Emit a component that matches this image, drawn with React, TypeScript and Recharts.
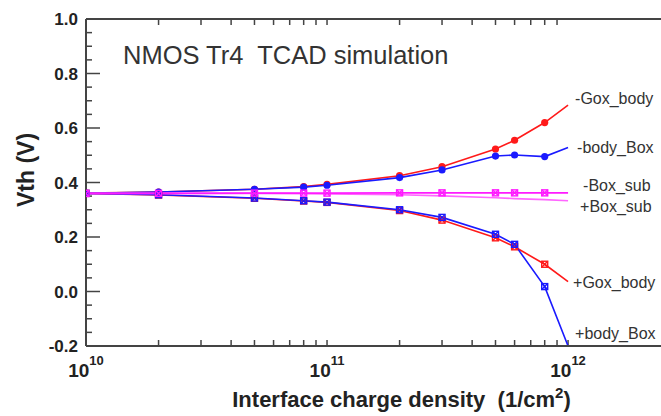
import { LineChart, Line, XAxis, YAxis, ReferenceLine } from "recharts"

// interface charge density (1/cm^2)
const density = [1e10, 2e10, 5e10, 8e10, 1e11, 2e11, 3e11, 5e11, 6e11, 8e11, 1e12]

// Vth (V) per charge location
const minusGoxBody = [0.361, 0.365, 0.375, 0.385, 0.393, 0.425, 0.458, 0.523, 0.555, 0.62, 0.684]
const minusBodyBox = [0.36, 0.365, 0.375, 0.383, 0.39, 0.418, 0.446, 0.497, 0.501, 0.495, 0.528]
const minusBoxSub = [0.36, 0.36, 0.361, 0.361, 0.361, 0.362, 0.362, 0.362, 0.362, 0.362, 0.362]
const plusBoxSub = [0.36, 0.36, 0.36, 0.359, 0.358, 0.355, 0.351, 0.344, 0.341, 0.337, 0.333]
const plusGoxBody = [0.36, 0.354, 0.342, 0.332, 0.327, 0.297, 0.262, 0.197, 0.164, 0.1, 0.036]
const plusBodyBox = [0.36, 0.355, 0.343, 0.333, 0.328, 0.3, 0.272, 0.21, 0.173, 0.018, -0.2]

const xMajorTicks = [1e10, 1e11, 1e12]
const xMinorTicks = [2e10, 3e10, 4e10, 5e10, 6e10, 7e10, 8e10, 9e10, 1e11, 2e11, 3e11, 4e11, 5e11, 6e11, 7e11, 8e11, 9e11]
const yMajorTicks = [-0.2, 0, 0.2, 0.4, 0.6, 0.8, 1.0]
const yMinorTicks = [-0.15, -0.1, -0.05, 0.05, 0.1, 0.15, 0.25, 0.3, 0.35, 0.45, 0.5, 0.55, 0.65, 0.7, 0.75, 0.85, 0.9, 0.95]

const rows = density.map((x, i) => ({
  x,
  gox_m: minusGoxBody[i],
  body_m: minusBodyBox[i],
  sub_m: minusBoxSub[i],
  sub_p: plusBoxSub[i],
  gox_p: plusGoxBody[i],
  body_p: plusBodyBox[i],
}))

const series = [
  { key: "gox_m", name: "-Gox_body", color: "#ff1a1a", marker: "circle", dx: 7, dy: -7 },
  { key: "gox_p", name: "+Gox_body", color: "#ff1a1a", marker: "cross", dx: 5, dy: 1 },
  { key: "body_m", name: "-body_Box", color: "#1a1aff", marker: "circle", dx: 9, dy: 0 },
  { key: "body_p", name: "+body_Box", color: "#1a1aff", marker: "cross", dx: 7, dy: -13 },
  { key: "sub_p", name: "+Box_sub", color: "#ff66ff", marker: "none", dx: 12, dy: 6 },
  { key: "sub_m", name: "-Box_sub", color: "#ff1aff", marker: "cross", dx: 15, dy: -7 },
]

const X_MAX = 2.43e12
const PX_PER_DECADE = 241
const Y_PER_PX = 1.2 / 327
const AXIS = "#444"
const SANS = "'Liberation Sans', Arial, sans-serif"

function makeDot(s: (typeof series)[number]) {
  return (p: any) => {
    const { cx, cy, index } = p
    const k = `${s.key}-${index}`
    if (index === density.length - 1) {
      return (
        <text key={k} x={cx + s.dx} y={cy + s.dy} dominantBaseline="central" fontFamily={SANS} fontSize={16} fill="#333">
          {s.name}
        </text>
      )
    }
    if (s.marker === "circle") return <circle key={k} cx={cx} cy={cy} r={3.6} fill={s.color} />
    if (s.marker === "cross")
      return (
        <g key={k} stroke={s.color} strokeWidth={1.4} fill="none">
          <rect x={cx - 3} y={cy - 3} width={6} height={6} />
          <path d={`M${cx - 3},${cy - 3}L${cx + 3},${cy + 3}M${cx - 3},${cy + 3}L${cx + 3},${cy - 3}`} />
        </g>
      )
    return <g key={k} />
  }
}

function XTick(props: any) {
  const { x, y, payload } = props
  const exp = Math.round(Math.log10(payload.value))
  return (
    <text x={x} y={y} dy={23} textAnchor="middle" fontFamily={SANS} fontWeight="bold" fill="#222">
      <tspan fontSize={19}>10</tspan>
      <tspan fontSize={13} dy={-12}>{exp}</tspan>
    </text>
  )
}

export default function App() {
  const yMajorLen = Math.pow(10, 14 / PX_PER_DECADE)
  const yMinorLen = Math.pow(10, 6 / PX_PER_DECADE)
  const xTickLen = 6 * Y_PER_PX

  return (
    <div style={{ position: "absolute", left: 0, top: 0, width: 661, height: 416 }}>
      <LineChart width={661} height={416} data={rows} margin={{ top: 19, right: 0, bottom: 0, left: 0 }}>
        <XAxis
          dataKey="x"
          type="number"
          scale="log"
          domain={[1e10, X_MAX]}
          allowDataOverflow
          ticks={xMajorTicks}
          height={70}
          tickLine={false}
          axisLine={{ stroke: AXIS, strokeWidth: 2 }}
          tick={<XTick />}
          label={{
            content: (p: any) => {
              const vb = p.viewBox
              return (
                <text x={vb.x + vb.width / 2 + 28} y={vb.y + 61} textAnchor="middle" fontFamily={SANS} fontWeight="bold" fontSize={22} fill="#222">
                  Interface charge density{"\u00a0\u00a0"}(1/cm
                  <tspan fontSize={15} dy={-9}>2</tspan>
                  <tspan dy={9}>)</tspan>
                </text>
              )
            },
          }}
        />
        <YAxis
          type="number"
          domain={[-0.2, 1.0]}
          allowDataOverflow
          ticks={yMajorTicks}
          width={86}
          tickLine={false}
          axisLine={{ stroke: AXIS, strokeWidth: 2 }}
          tickFormatter={(v: number) => v.toFixed(1)}
          tick={{ fill: "#222", fontSize: 17, fontWeight: "bold", fontFamily: SANS }}
          label={{
            content: () => (
              <text x={34} y={170} transform="rotate(-90 34 170)" textAnchor="middle" fontFamily={SANS} fontWeight="bold" fontSize={23} fill="#222">
                Vth (V)
              </text>
            ),
          }}
        />
        <ReferenceLine y={1.0} stroke={AXIS} strokeWidth={2} />
        {yMajorTicks.map((v) => (
          <ReferenceLine key={`ym${v}`} segment={[{ x: 1e10, y: v }, { x: 1e10 * yMajorLen, y: v }]} stroke={AXIS} strokeWidth={1.5} />
        ))}
        {yMinorTicks.map((v) => (
          <ReferenceLine key={`yn${v}`} segment={[{ x: 1e10, y: v }, { x: 1e10 * yMinorLen, y: v }]} stroke={AXIS} strokeWidth={1.5} />
        ))}
        {[...xMinorTicks, 1e12].map((v) => (
          <ReferenceLine key={`xb${v}`} segment={[{ x: v, y: -0.2 }, { x: v, y: -0.2 + xTickLen }]} stroke={AXIS} strokeWidth={1.5} />
        ))}
        {xMinorTicks.map((v) => (
          <ReferenceLine key={`xt${v}`} segment={[{ x: v, y: 1.0 }, { x: v, y: 1.0 - xTickLen }]} stroke={AXIS} strokeWidth={1.5} />
        ))}
        {series.map((s) => (
          <Line
            key={s.key}
            dataKey={s.key}
            type="linear"
            stroke={s.color}
            strokeWidth={1.6}
            dot={makeDot(s)}
            activeDot={false}
            isAnimationActive={false}
          />
        ))}
      </LineChart>
      <div
        style={{
          position: "absolute",
          left: 123,
          top: 43,
          fontFamily: SANS,
          fontSize: 25.5,
          lineHeight: 1,
          color: "#333",
          whiteSpace: "pre",
        }}
      >
        NMOS Tr4  TCAD simulation
      </div>
    </div>
  )
}
